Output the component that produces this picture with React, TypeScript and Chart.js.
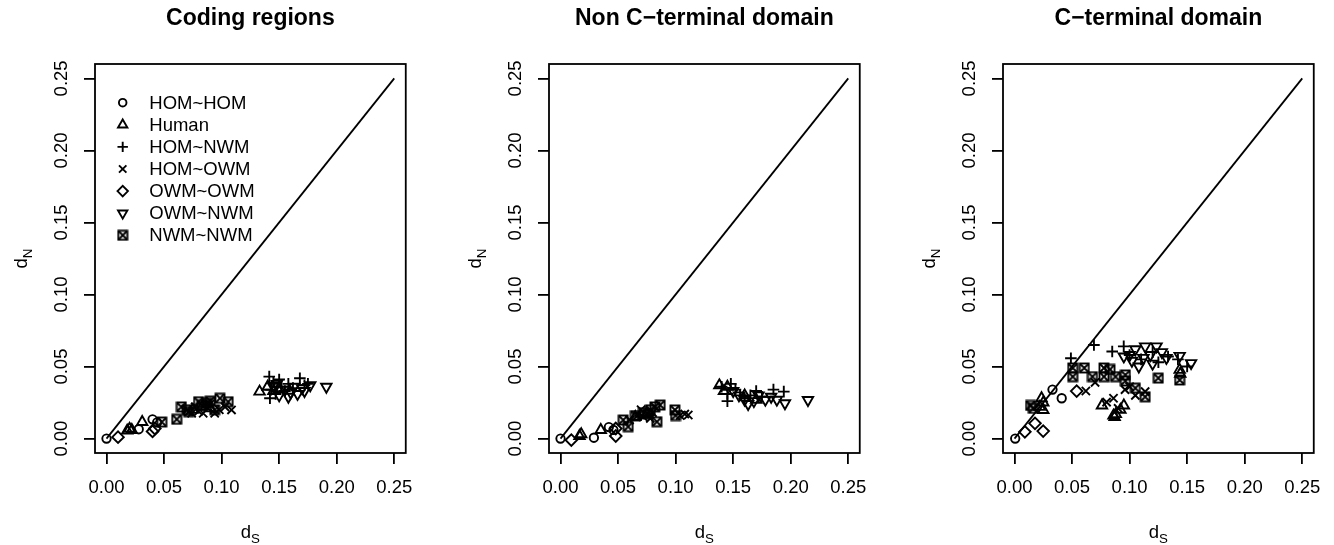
import React, { useEffect, useRef } from 'react';
import { Chart, registerables } from 'chart.js';
import { drawPoint } from 'chart.js/helpers';

Chart.register(...registerables);

type Pt = [number, number];

// ---------- text ----------
const panelTitles = ['Coding regions', 'Non C\u2212terminal domain', 'C\u2212terminal domain'];
const groupNames = ['HOM~HOM', 'Human', 'HOM~NWM', 'HOM~OWM', 'OWM~OWM', 'OWM~NWM', 'NWM~NWM'];
const tickValues = [0, 0.05, 0.1, 0.15, 0.2, 0.25];
const tickLabels = ['0.00', '0.05', '0.10', '0.15', '0.20', '0.25'];
const xAxisMain = 'd';
const xAxisSub = 'S';
const yAxisMain = 'd';
const yAxisSub = 'N';

// ---------- reference line dS = dN ----------
const diagonalDs = [0, 0.25];
const diagonalDn = [0, 0.25];

// ---------- Coding regions (dS, dN) ----------
const codingHomHom: Pt[] = [[0.0, 0.0], [0.028, 0.0065], [0.04, 0.0134], [0.044, 0.0113]];
const codingHuman: Pt[] = [[0.018, 0.0055], [0.02, 0.0068], [0.022, 0.006], [0.031, 0.0115], [0.075, 0.02], [0.083, 0.022], [0.09, 0.021], [0.133, 0.0326], [0.14, 0.036], [0.145, 0.033], [0.15, 0.035]];
const codingHomNwm: Pt[] = [[0.1414, 0.043], [0.143, 0.034], [0.145, 0.039], [0.147, 0.031], [0.15, 0.041], [0.152, 0.036], [0.155, 0.033], [0.158, 0.038], [0.162, 0.035], [0.168, 0.0419], [0.172, 0.037], [0.175, 0.038], [0.142, 0.028]];
const codingHomOwm: Pt[] = [[0.074, 0.0176], [0.08, 0.019], [0.084, 0.0176], [0.088, 0.021], [0.094, 0.0176], [0.098, 0.02], [0.103, 0.022], [0.1086, 0.0199], [0.077, 0.022], [0.09, 0.024]];
const codingOwmOwm: Pt[] = [[0.01, 0.001], [0.04, 0.005], [0.042, 0.007]];
const codingOwmNwm: Pt[] = [[0.145, 0.036], [0.15, 0.03], [0.155, 0.034], [0.16, 0.032], [0.163, 0.036], [0.166, 0.031], [0.17, 0.035], [0.172, 0.033], [0.177, 0.037], [0.148, 0.038], [0.191, 0.036], [0.158, 0.029]];
const codingNwmNwm: Pt[] = [[0.048, 0.0115], [0.061, 0.0134], [0.065, 0.022], [0.0714, 0.0187], [0.08, 0.0256], [0.087, 0.0245], [0.094, 0.02], [0.0986, 0.028], [0.1057, 0.0256], [0.07, 0.02], [0.083, 0.023], [0.09, 0.026]];

// ---------- Non C-terminal domain ----------
const nonCtermHomHom: Pt[] = [[0.0, 0.0], [0.029, 0.0006], [0.042, 0.008], [0.046, 0.006]];
const nonCtermHuman: Pt[] = [[0.0165, 0.0018], [0.018, 0.003], [0.035, 0.006], [0.065, 0.015], [0.075, 0.017], [0.138, 0.037], [0.142, 0.033], [0.145, 0.036], [0.16, 0.03], [0.17, 0.027]];
const nonCtermHomNwm: Pt[] = [[0.14, 0.036], [0.145, 0.031], [0.148, 0.038], [0.152, 0.034], [0.156, 0.03], [0.16, 0.028], [0.165, 0.03], [0.17, 0.033], [0.175, 0.029], [0.185, 0.034], [0.194, 0.0326], [0.145, 0.026]];
const nonCtermHomOwm: Pt[] = [[0.06, 0.013], [0.067, 0.016], [0.072, 0.015], [0.078, 0.014], [0.08, 0.018], [0.104, 0.016], [0.108, 0.017], [0.111, 0.0164], [0.07, 0.02]];
const nonCtermOwmOwm: Pt[] = [[0.0094, -0.001], [0.048, 0.0018], [0.048, 0.007]];
const nonCtermOwmNwm: Pt[] = [[0.15, 0.033], [0.155, 0.03], [0.16, 0.027], [0.163, 0.024], [0.168, 0.026], [0.172, 0.03], [0.178, 0.027], [0.183, 0.029], [0.188, 0.027], [0.195, 0.0245], [0.215, 0.0268]];
const nonCtermNwmNwm: Pt[] = [[0.0545, 0.0129], [0.0588, 0.0083], [0.065, 0.016], [0.072, 0.018], [0.078, 0.02], [0.0837, 0.0117], [0.0866, 0.0233], [0.082, 0.022], [0.0994, 0.0199], [0.1, 0.016], [0.076, 0.017]];

// ---------- C-terminal domain ----------
const ctermHomHom: Pt[] = [[0.0006, 0.0], [0.033, 0.034], [0.041, 0.028]];
const ctermHuman: Pt[] = [[0.0235, 0.028], [0.025, 0.0198], [0.022, 0.022], [0.025, 0.025], [0.076, 0.023], [0.086, 0.016], [0.087, 0.015], [0.088, 0.017], [0.095, 0.023], [0.1435, 0.0477], [0.144, 0.045], [0.092, 0.02]];
const ctermHomNwm: Pt[] = [[0.049, 0.0558], [0.069, 0.065], [0.0849, 0.0605], [0.0949, 0.064], [0.1, 0.058], [0.11, 0.055], [0.1334, 0.057], [0.12, 0.06], [0.125, 0.053], [0.142, 0.055], [0.15, 0.05]];
const ctermHomOwm: Pt[] = [[0.062, 0.033], [0.07, 0.039], [0.086, 0.028], [0.096, 0.034], [0.105, 0.03], [0.1135, 0.0326], [0.09, 0.021], [0.1, 0.036], [0.08, 0.0253]];
const ctermOwmOwm: Pt[] = [[0.009, 0.0047], [0.0178, 0.0106], [0.0249, 0.0052], [0.054, 0.033]];
const ctermOwmNwm: Pt[] = [[0.1, 0.058], [0.102, 0.054], [0.108, 0.05], [0.112, 0.056], [0.1135, 0.064], [0.118, 0.058], [0.1234, 0.064], [0.128, 0.06], [0.132, 0.056], [0.1435, 0.0574], [0.1534, 0.0524], [0.095, 0.057], [0.105, 0.062], [0.12, 0.052]];
const ctermNwmNwm: Pt[] = [[0.0163, 0.021], [0.014, 0.023], [0.0506, 0.049], [0.0506, 0.043], [0.0606, 0.049], [0.0677, 0.043], [0.0777, 0.049], [0.0777, 0.043], [0.0877, 0.043], [0.0963, 0.0442], [0.0963, 0.04], [0.105, 0.035], [0.1135, 0.029], [0.1249, 0.042], [0.1435, 0.0407], [0.083, 0.048]];

const panelData: Pt[][][] = [
  [codingHomHom, codingHuman, codingHomNwm, codingHomOwm, codingOwmOwm, codingOwmNwm, codingNwmNwm],
  [nonCtermHomHom, nonCtermHuman, nonCtermHomNwm, nonCtermHomOwm, nonCtermOwmOwm, nonCtermOwmNwm, nonCtermNwmNwm],
  [ctermHomHom, ctermHuman, ctermHomNwm, ctermHomOwm, ctermOwmOwm, ctermOwmNwm, ctermNwmNwm],
];

// ---------- styling ----------
const FONT = "'Liberation Sans', Arial, Helvetica, sans-serif";
const LW = 1.8;
const PW = 1.9;
const CANVAS_W = 426;
const CANVAS_H = 545;
const PANEL_STEP = 454;

let boxXCanvas: HTMLCanvasElement | null = null;
function getBoxX(): HTMLCanvasElement {
  if (boxXCanvas) return boxXCanvas;
  const c = document.createElement('canvas');
  c.width = 12;
  c.height = 12;
  const g = c.getContext('2d')!;
  g.strokeStyle = '#000';
  g.lineWidth = PW;
  const a = 1.5, b = 10.5;
  g.strokeRect(a, a, b - a, b - a);
  g.beginPath();
  g.moveTo(a, a); g.lineTo(b, b);
  g.moveTo(b, a); g.lineTo(a, b);
  g.stroke();
  boxXCanvas = c;
  return c;
}

function symbolFor(i: number): { style: any; radius: number; rotation: number } {
  switch (i) {
    case 0: return { style: 'circle', radius: 4.2, rotation: 0 };
    case 1: return { style: 'triangle', radius: 6.0, rotation: 0 };
    case 2: return { style: 'cross', radius: 5.8, rotation: 0 };
    case 3: return { style: 'crossRot', radius: 5.8, rotation: 0 };
    case 4: return { style: 'rectRot', radius: 5.8, rotation: 0 };
    case 5: return { style: 'triangle', radius: 6.0, rotation: 180 };
    default: return { style: getBoxX(), radius: 5, rotation: 0 };
  }
}

function drawSubLabel(ctx: CanvasRenderingContext2D, main: string, sub: string, size: number) {
  ctx.font = `${size}px ${FONT}`;
  const wMain = ctx.measureText(main).width;
  ctx.font = `${size * 0.72}px ${FONT}`;
  const wSub = ctx.measureText(sub).width;
  const total = wMain + wSub;
  ctx.textAlign = 'left';
  ctx.textBaseline = 'alphabetic';
  ctx.font = `${size}px ${FONT}`;
  ctx.fillText(main, -total / 2, 0);
  ctx.font = `${size * 0.72}px ${FONT}`;
  ctx.fillText(sub, -total / 2 + wMain, size * 0.25);
}

function makePlugin(panelIndex: number) {
  return {
    id: 'rstyle' + panelIndex,
    beforeDatasetsDraw(chart: any) {
      const { ctx, chartArea } = chart;
      ctx.save();
      ctx.strokeStyle = '#000';
      ctx.lineWidth = LW;
      ctx.strokeRect(chartArea.left, chartArea.top, chartArea.right - chartArea.left, chartArea.bottom - chartArea.top);
      ctx.restore();
    },
    afterDraw(chart: any) {
      const { ctx, chartArea } = chart;
      const yScale = chart.scales.y;
      ctx.save();
      ctx.fillStyle = '#000';
      // rotated y tick labels
      ctx.font = `18.5px ${FONT}`;
      tickValues.forEach((v, i) => {
        const py = yScale.getPixelForValue(v);
        ctx.save();
        ctx.translate(62, py);
        ctx.rotate(-Math.PI / 2);
        ctx.textAlign = 'center';
        ctx.textBaseline = 'middle';
        ctx.fillText(tickLabels[i], 0, 0);
        ctx.restore();
      });
      // x axis title
      ctx.save();
      ctx.translate((chartArea.left + chartArea.right) / 2, 538);
      drawSubLabel(ctx, xAxisMain, xAxisSub, 18.5);
      ctx.restore();
      // y axis title
      ctx.save();
      ctx.translate(27, (chartArea.top + chartArea.bottom) / 2);
      ctx.rotate(-Math.PI / 2);
      drawSubLabel(ctx, yAxisMain, yAxisSub, 18.5);
      ctx.restore();
      // legend (first panel only)
      if (panelIndex === 0) {
        groupNames.forEach((name, i) => {
          const y = chartArea.top + 38.7 + i * 22.1;
          const s = symbolFor(i);
          ctx.save();
          ctx.strokeStyle = '#000';
          ctx.fillStyle = 'rgba(0,0,0,0)';
          ctx.lineWidth = PW;
          drawPoint(ctx, { pointStyle: s.style, rotation: s.rotation, radius: s.radius * 0.9, borderWidth: PW } as any, chartArea.left + 27.7, y);
          ctx.restore();
          ctx.font = `18.5px ${FONT}`;
          ctx.textAlign = 'left';
          ctx.textBaseline = 'middle';
          ctx.fillStyle = '#000';
          ctx.fillText(name, chartArea.left + 54.3, y + 1);
        });
      }
      ctx.restore();
    },
  };
}

function Panel({ index }: { index: number }) {
  const ref = useRef<HTMLCanvasElement | null>(null);
  useEffect(() => {
    const canvas = ref.current;
    if (!canvas) return;
    const groups = panelData[index];
    const datasets: any[] = groups.map((pts, gi) => {
      const s = symbolFor(gi);
      return {
        type: 'scatter',
        label: groupNames[gi],
        data: pts.map(([x, y]) => ({ x, y })),
        pointStyle: s.style,
        pointRadius: s.radius,
        pointHoverRadius: s.radius,
        pointRotation: s.rotation,
        pointBorderWidth: PW,
        pointBorderColor: '#000',
        pointBackgroundColor: 'rgba(0,0,0,0)',
        showLine: false,
      };
    });
    datasets.push({
      type: 'line',
      label: 'diagonal',
      data: diagonalDs.map((x, i) => ({ x, y: diagonalDn[i] })),
      borderColor: '#000',
      borderWidth: LW,
      pointRadius: 0,
      fill: false,
    });
    const axisCommon = {
      type: 'linear' as const,
      min: -0.01,
      max: 0.26,
      afterBuildTicks: (s: any) => {
        s.ticks = tickValues.map((v) => ({ value: v }));
      },
      grid: { drawOnChartArea: false, drawTicks: true, tickLength: 11, color: '#000', lineWidth: LW },
      border: { display: false },
    };
    const chart = new Chart(canvas, {
      type: 'scatter',
      data: { datasets },
      options: {
        responsive: false,
        animation: false,
        events: [],
        layout: { padding: { left: 0, right: 16, top: 0, bottom: 0 } },
        plugins: {
          legend: { display: false },
          tooltip: { enabled: false },
          title: {
            display: true,
            text: panelTitles[index],
            fullSize: false,
            color: '#000',
            font: { family: FONT, size: 23, weight: 'bold' },
            padding: { top: 5.2, bottom: 31.2 },
          },
        },
        scales: {
          x: {
            ...axisCommon,
            afterFit: (s: any) => { s.height = 92; },
            ticks: {
              callback: (_v: any, i: number) => tickLabels[i],
              font: { family: FONT, size: 18.5 },
              color: '#000',
              padding: 13,
              maxRotation: 0,
              minRotation: 0,
              autoSkip: false,
            },
          },
          y: {
            ...axisCommon,
            afterFit: (s: any) => { s.width = 95; },
            ticks: { display: false },
          },
        },
      } as any,
      plugins: [makePlugin(index)],
    });
    return () => chart.destroy();
  }, [index]);
  return (
    <canvas
      ref={ref}
      width={CANVAS_W}
      height={CANVAS_H}
      style={{ position: 'absolute', left: index * PANEL_STEP, top: 0, width: CANVAS_W, height: CANVAS_H }}
    />
  );
}

export default function App() {
  return (
    <div style={{ position: 'fixed', left: 0, top: 0, width: 1334, height: 545, background: '#fff' }}>
      {panelTitles.map((_, i) => (
        <Panel key={i} index={i} />
      ))}
    </div>
  );
}
